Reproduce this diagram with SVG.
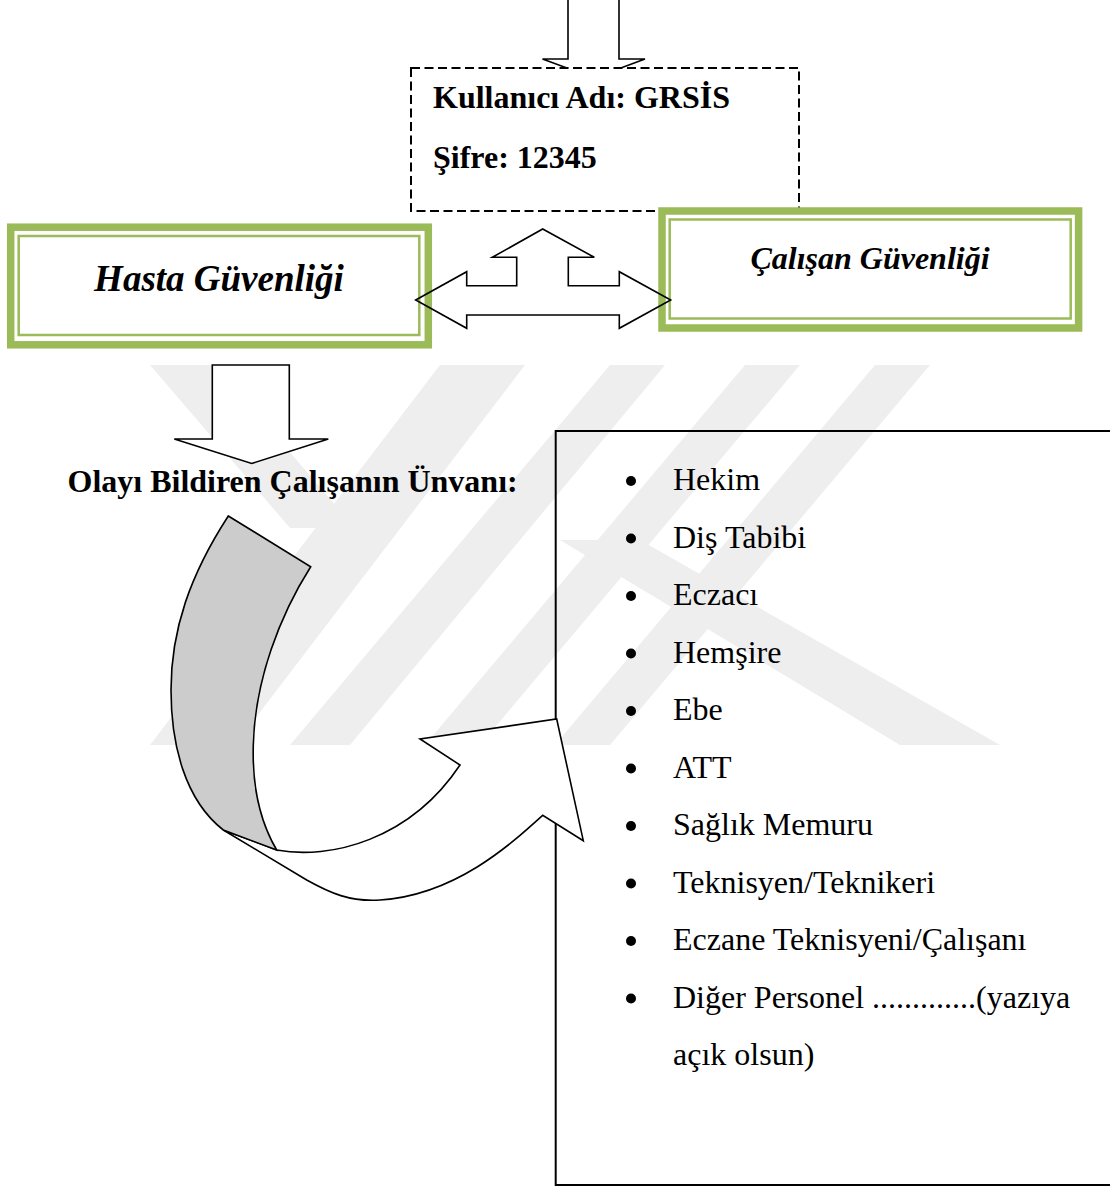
<svg xmlns="http://www.w3.org/2000/svg" width="1110" height="1187" viewBox="0 0 1110 1187">
  <style>
    .serif { font-family: "Liberation Serif", "Times New Roman", serif; fill: #000; }
    .b { font-weight: bold; }
    .bi { font-weight: bold; font-style: italic; }
    .item { font-size: 32px; }
    .line { fill: none; stroke: #000; stroke-width: 1.6; stroke-linejoin: miter; }
    .shape { fill: #fff; stroke: #000; stroke-width: 1.6; stroke-linejoin: miter; }
    .wm { fill: #eeeeee; }
    .outer { fill: #fff; stroke: #9bbb59; stroke-width: 7.5; }
    .inner { fill: none; stroke: #9bbb59; stroke-width: 2.5; }
  </style>
  <rect width="1110" height="1187" fill="#fff"/>

  <!-- faint background emblem -->
  <g id="emblem">
    <polygon class="wm" points="150,365 215,365 355,528 290,528"/>
    <polygon class="wm" points="440,365 525,365 235,745 150,745"/>
    <polygon class="wm" points="610,365 665,365 350,745 290,745"/>
    <polygon class="wm" points="745,365 800,365 480,745 425,745"/>
    <polygon class="wm" points="875,365 930,365 610,745 555,745"/>
    <polygon class="wm" points="560,540 640,540 1000,745 900,745"/>
  </g>

  <!-- connectors -->
  <g id="connectors">
    <path id="arrow-top" class="shape" d="M568,-2 L619,-2 L619,59 L645,59 L594,78 L542.5,59 L568,59 Z"/>
    <path id="arrow-down" class="shape" d="M212.3,365 L289.3,365 L289.3,439 L328.3,439 L251.7,463.5 L174.3,439 L212.3,439 Z"/>
  </g>

  <!-- login box -->
  <g id="login">
    <rect x="411" y="68" width="388" height="143" fill="#fff" stroke="#000" stroke-width="2" stroke-dasharray="9 4.5"/>
    <text class="serif b" x="433" y="108" font-size="32">Kullanıcı Adı: GRSİS</text>
    <text class="serif b" x="433" y="168" font-size="32">Şifre: 12345</text>
  </g>

  <!-- patient safety -->
  <g id="hasta">
    <rect class="outer" x="10.7" y="227.2" width="417.6" height="117.6"/>
    <rect class="inner" x="18.7" y="236" width="400.6" height="99"/>
    <text class="serif bi" x="219" y="291" font-size="37" text-anchor="middle">Hasta Güvenliği</text>
  </g>

  <!-- employee safety -->
  <g id="calisan">
    <rect class="outer" x="662" y="211" width="416.6" height="117"/>
    <rect class="inner" x="669.7" y="219.5" width="401" height="99"/>
    <text class="serif bi" x="870" y="269" font-size="32" text-anchor="middle">Çalışan Güvenliği</text>
  </g>

  <!-- three-way arrow between the two safety boxes -->
  <g id="arrow-three">
    <polygon class="line" points="415.7,300 466.7,271.7 466.7,285.7 516.7,285.7 516.7,257.3 492.3,257.3 542.7,229 594.3,257.3 568.3,257.3 568.3,285.7 619.3,285.7 619.3,271.7 670.7,300 619.3,328.3 619.3,315 466.7,315 466.7,328.3"/>
  </g>

  <!-- title question -->
  <g id="question">
    <text class="serif b" x="67.5" y="492" font-size="32">Olayı Bildiren Çalışanın Ünvanı:</text>
  </g>

  <!-- answer list -->
  <g id="list">
    <rect x="555.7" y="431" width="560" height="754" fill="none" stroke="#000" stroke-width="2"/>
    <g fill="#000">
      <circle cx="631" cy="481" r="5"/>
      <circle cx="631" cy="538.5" r="5"/>
      <circle cx="631" cy="596" r="5"/>
      <circle cx="631" cy="653.5" r="5"/>
      <circle cx="631" cy="711" r="5"/>
      <circle cx="631" cy="768.5" r="5"/>
      <circle cx="631" cy="826" r="5"/>
      <circle cx="631" cy="883.5" r="5"/>
      <circle cx="631" cy="941" r="5"/>
      <circle cx="631" cy="998.5" r="5"/>
    </g>
    <g class="serif item">
      <text x="673" y="490">Hekim</text>
      <text x="673" y="547.5">Diş Tabibi</text>
      <text x="673" y="605">Eczacı</text>
      <text x="673" y="662.5">Hemşire</text>
      <text x="673" y="720">Ebe</text>
      <text x="673" y="777.5">ATT</text>
      <text x="673" y="835">Sağlık Memuru</text>
      <text x="673" y="892.5">Teknisyen/Teknikeri</text>
      <text x="673" y="950">Eczane Teknisyeni/Çalışanı</text>
      <text x="673" y="1007.5">Diğer Personel .............(yazıya</text>
      <text x="673" y="1065">açık olsun)</text>
    </g>
  </g>

  <!-- curved arrow leading to the list -->
  <g id="arrow-curved">
    <path class="shape" d="M223.3,830 L276.7,850 C330,860 410,840 460,765 L420,739 L556.7,719 L583.3,840.7 L542.7,815.3 C510,845 455,895 380,900 C350,902 330,893 306.7,880 Z"/>
    <path d="M228.3,516 L310.7,566.7 C280,615 255,680 253.3,745 C252,790 262,825 276.7,850 L223.3,830 C185,800 171,745 171,690 C171,630 190,575 228.3,516 Z" fill="#cccccc" stroke="#000" stroke-width="1.6" stroke-linejoin="miter"/>
  </g>
</svg>
